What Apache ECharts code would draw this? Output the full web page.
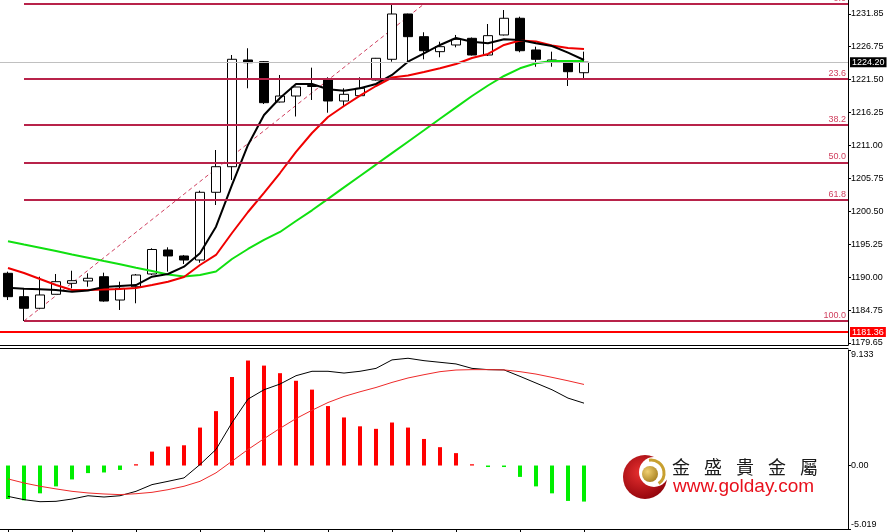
<!DOCTYPE html>
<html><head><meta charset="utf-8">
<script src="https://cdn.jsdelivr.net/npm/echarts@6/dist/echarts.min.js"></script>
<style>html,body{margin:0;padding:0;background:#fff;}#c{width:887px;height:532px;}</style>
</head><body><div id="c"></div>
<script>
// ---- Candles (open, close, low, high) ----
const opens  = [1190.69,1186.98,1185.14,1187.36,1189.10,1189.47,1190.15,1186.45,1188.56,1190.58,1194.39,1193.44,1192.80,1203.55,1207.61,1224.55,1224.28,1217.88,1218.83,1220.34,1221.37,1218.04,1218.88,1221.37,1224.66,1231.85,1228.25,1225.87,1226.93,1227.99,1225.34,1228.52,1231.17,1226.14,1224.23,1224.28,1222.53];
const closes = [1186.98,1185.14,1187.25,1189.36,1189.52,1189.90,1186.29,1188.31,1190.42,1194.47,1193.44,1192.80,1203.55,1207.61,1224.66,1224.12,1217.77,1218.83,1220.26,1220.50,1218.04,1219.10,1220.06,1224.82,1231.85,1228.25,1226.02,1226.66,1227.83,1225.34,1228.41,1231.17,1226.02,1224.66,1224.55,1222.69,1224.20];
const lows   = [1186.45,1183.12,1184.98,1187.33,1188.31,1188.56,1186.18,1184.87,1185.93,1190.42,1190.95,1192.17,1192.37,1201.53,1205.50,1220.06,1217.56,1217.80,1215.58,1218.20,1216.18,1217.14,1218.83,1221.29,1224.28,1224.28,1224.66,1224.98,1226.56,1225.26,1225.18,1228.44,1225.77,1223.48,1223.48,1220.42,1221.64];
const highs  = [1190.95,1188.20,1190.15,1190.58,1191.10,1190.69,1190.79,1189.36,1190.58,1194.66,1194.82,1193.60,1203.80,1210.26,1225.34,1226.41,1224.39,1222.17,1220.31,1223.33,1221.80,1220.06,1221.80,1224.87,1233.44,1231.90,1228.95,1227.45,1228.52,1228.12,1230.26,1232.48,1231.42,1226.66,1225.87,1224.31,1225.87];

// ---- Moving averages ----
const maFast = [1188.41,1188.25,1188.15,1188.04,1187.77,1187.96,1188.52,1188.68,1188.83,1190.15,1190.58,1191.74,1193.87,1198.09,1204.71,1211.06,1215.82,1218.52,1220.74,1220.74,1219.90,1219.68,1220.06,1220.74,1222.17,1224.28,1225.61,1226.93,1228.04,1227.45,1227.20,1227.83,1227.72,1227.20,1226.77,1225.71,1224.55];
const maMid  = [1191.53,1190.74,1189.79,1188.83,1188.04,1188.04,1188.12,1188.20,1188.36,1188.83,1189.36,1190.10,1192.01,1193.60,1197.09,1200.42,1203.44,1206.61,1209.95,1212.96,1215.50,1217.25,1218.88,1220.42,1221.77,1222.09,1222.64,1223.23,1223.91,1224.87,1225.50,1226.93,1227.64,1227.48,1226.85,1226.45,1226.29];
const maSlow = [1195.77,1195.25,1194.75,1194.23,1193.69,1193.17,1192.64,1192.12,1191.58,1191.06,1190.50,1190.18,1190.42,1190.98,1192.96,1194.55,1195.98,1197.25,1198.99,1200.69,1202.50,1204.33,1206.14,1207.95,1209.77,1211.58,1213.39,1215.22,1217.02,1218.83,1220.50,1222.01,1223.23,1224.02,1224.39,1224.39,1224.39];

// ---- MACD ----
const macdHist   = [-2.65,-2.75,-2.2,-1.65,-1.1,-0.6,-0.55,-0.35,0.1,1.1,1.5,1.6,3.0,4.3,7.0,8.3,7.9,7.3,6.7,6.0,4.7,3.8,3.1,2.9,3.4,3.0,2.1,1.45,0.98,0.1,-0.12,-0.12,-0.9,-1.65,-2.2,-2.8,-2.85];
const macdLine   = [-2.44,-2.7,-2.86,-2.83,-2.65,-2.39,-2.49,-2.39,-2.04,-1.51,-1.25,-0.98,0.08,1.27,3.39,5.25,5.99,6.44,7.1,7.45,7.45,7.31,7.45,7.68,8.35,8.48,8.29,8.16,8.03,7.68,7.58,7.56,7.05,6.52,5.99,5.33,4.93];
const macdSignal = [-1.06,-1.38,-1.64,-1.85,-2.04,-2.17,-2.25,-2.3,-2.23,-2.12,-1.91,-1.64,-1.25,-0.58,0.34,1.27,2.12,2.94,3.71,4.37,4.98,5.46,5.83,6.17,6.57,6.92,7.18,7.42,7.55,7.58,7.58,7.56,7.42,7.23,6.97,6.7,6.41];

// ---- Levels / ticks ----
const fibPercents = [0, 23.6, 38.2, 50, 61.8, 100];
const fibAnchorEndIdx = 26;
const lastPrice = 1224.20;
const supportPrice = 1181.36;
const priceTicks = [1179.65,1184.75,1190.00,1195.25,1200.50,1205.75,1211.00,1216.25,1221.50,1226.75,1231.85];
const macdTicks = [-5.019, 0, 9.133];

const SLOTS = 53;
const TICK_EVERY = 4;
const categories = Array.from({length: SLOTS}, (_, i) => 'B' + i);
const candleData = opens.map((o, i) => [o, closes[i], lows[i], highs[i]]);
const fibLow = Math.min(...lows), fibHigh = Math.max(...highs);
const fibStartIdx = lows.indexOf(fibLow);
const xMax = SLOTS - 0.5;
const fibColor = '#b8234a';
const fibText = '#d0405f';
const axisFont = 'Liberation Sans';

const chart = echarts.init(document.getElementById('c'), null, {renderer: 'canvas'});
chart.setOption({
  animation: false,
  backgroundColor: '#ffffff',
  grid: [
    {left: -2, top: 0, width: 850, height: 345},
    {left: -2, top: 350, width: 850, height: 179}
  ],
  xAxis: [
    {type: 'category', gridIndex: 0, data: categories, boundaryGap: true,
     axisLine: {show: true, onZero: false, lineStyle: {color: '#000', width: 1}}, axisTick: {show: false}, axisLabel: {show: false}, splitLine: {show: false}},
    {type: 'value', gridIndex: 0, min: -0.5, max: xMax, show: false, axisLine: {onZero: false}},
    {type: 'category', gridIndex: 1, data: categories, boundaryGap: true, position: 'bottom',
     axisLine: {show: true, onZero: false, lineStyle: {color: '#000', width: 1}},
     axisTick: {show: true, alignWithLabel: true, length: 3, lineStyle: {color: '#000'},
       interval: (idx) => idx % TICK_EVERY === 0 && idx < opens.length},
     axisLabel: {show: false}, splitLine: {show: false}},
    {type: 'category', gridIndex: 1, data: categories, position: 'top', offset: 2,
     axisLine: {show: true, onZero: false, lineStyle: {color: '#000', width: 1}}, axisTick: {show: false}, axisLabel: {show: false}}
  ],
  yAxis: [
    {type: 'value', gridIndex: 0, position: 'right', min: 1179.31, max: 1234.07, scale: true,
     axisLine: {show: true, onZero: false, lineStyle: {color: '#000', width: 1}},
     axisTick: {show: true, length: 3, lineStyle: {color: '#000'}, customValues: priceTicks},
     axisLabel: {show: true, customValues: priceTicks, formatter: v => v.toFixed(2), color: '#000', fontSize: 9, fontFamily: axisFont, margin: 3},
     splitLine: {show: false}},
    {type: 'value', gridIndex: 1, position: 'right', min: -5.019, max: 9.133,
     axisLine: {show: true, onZero: false, lineStyle: {color: '#000', width: 1}},
     axisTick: {show: true, length: 3, lineStyle: {color: '#000'}, customValues: macdTicks},
     axisLabel: {show: true, customValues: macdTicks, formatter: v => v === 0 ? '0.00' : String(v), color: '#000', fontSize: 9, fontFamily: axisFont, margin: 3,
       verticalAlignMaxLabel: 'top', verticalAlignMinLabel: 'bottom'},
     splitLine: {show: false}}
  ],
  series: [
    {type: 'line', xAxisIndex: 1, yAxisIndex: 0, data: [], silent: true, z: 1,
     markLine: {symbol: 'none', silent: true, animation: false,
       data: fibPercents.map(p => {
         const lvl = fibHigh - (fibHigh - fibLow) * p / 100;
         return [
           {coord: [fibStartIdx, lvl], lineStyle: {color: fibColor, width: 2, type: 'solid'},
            label: {show: true, position: 'insideEndTop', formatter: p.toFixed(1), color: fibText, fontSize: 9, fontFamily: axisFont, distance: [2, 1]}},
           {coord: [xMax, lvl]}
         ];
       })}},
    {type: 'line', xAxisIndex: 1, yAxisIndex: 0, data: [[fibStartIdx, fibLow], [fibAnchorEndIdx, fibHigh]],
     showSymbol: false, silent: true, z: 1,
     lineStyle: {color: '#d04060', width: 1, type: [4, 3]}},
    {type: 'candlestick', xAxisIndex: 0, yAxisIndex: 0, data: candleData, barWidth: 10, z: 2,
     itemStyle: {color: '#ffffff', color0: '#000000', borderColor: '#000000', borderColor0: '#000000', borderWidth: 1},
     markLine: {symbol: 'none', silent: true, animation: false,
       data: [
         {yAxis: lastPrice, lineStyle: {color: '#c0c0c0', width: 1, type: 'solid'},
          label: {show: true, position: 'end', formatter: lastPrice.toFixed(2), color: '#fff', backgroundColor: '#000', padding: [1, 2, 0, 2], fontSize: 9, fontFamily: axisFont, distance: 2}},
         {yAxis: supportPrice, lineStyle: {color: '#ff0000', width: 2, type: 'solid'},
          label: {show: true, position: 'end', formatter: supportPrice.toFixed(2), color: '#fff', backgroundColor: '#ff0000', padding: [1, 2, 0, 2], fontSize: 9, fontFamily: axisFont, distance: 2}}
       ]}},
    {type: 'line', xAxisIndex: 0, yAxisIndex: 0, data: maSlow, showSymbol: false, silent: true, z: 3, lineStyle: {color: '#10e010', width: 2}},
    {type: 'line', xAxisIndex: 0, yAxisIndex: 0, data: maMid, showSymbol: false, silent: true, z: 3, lineStyle: {color: '#f00000', width: 2}},
    {type: 'line', xAxisIndex: 0, yAxisIndex: 0, data: maFast, showSymbol: false, silent: true, z: 4, lineStyle: {color: '#000000', width: 2}},
    {type: 'bar', xAxisIndex: 2, yAxisIndex: 1, barWidth: 4, silent: true,
     data: macdHist.map(v => ({value: v, itemStyle: {color: v >= 0 ? '#ff0000' : '#00ee00'}}))},
    {type: 'line', xAxisIndex: 2, yAxisIndex: 1, data: macdLine, showSymbol: false, silent: true, lineStyle: {color: '#000', width: 1}},
    {type: 'line', xAxisIndex: 2, yAxisIndex: 1, data: macdSignal, showSymbol: false, silent: true, lineStyle: {color: '#ee2a2a', width: 1}}
  ],
  graphic: [
    {type: 'circle', shape: {cx: 645, cy: 477, r: 22}, style: {fill: new echarts.graphic.RadialGradient(0.4, 0.4, 0.7, [{offset: 0, color: '#e83030'}, {offset: 1, color: '#8a0008'}])}, z: 10},
    {type: 'circle', shape: {cx: 654, cy: 472, r: 15}, style: {fill: '#ffffff'}, z: 11},
    {type: 'arc', shape: {cx: 651, cy: 473, r: 13, startAngle: -Math.PI * 0.55, endAngle: Math.PI * 0.3}, style: {stroke: '#c8a030', lineWidth: 3, fill: null}, z: 12},
    {type: 'circle', shape: {cx: 650, cy: 474, r: 8}, style: {fill: new echarts.graphic.RadialGradient(0.35, 0.35, 0.8, [{offset: 0, color: '#f0d070'}, {offset: 1, color: '#a07818'}])}, z: 12},
    ...['金','盛','貴','金','屬'].map((ch, k) => ({type: 'text', x: 681 + k * 32, y: 467, z: 12,
      style: {text: ch, fill: '#1a1a1a', font: '18px "Noto Sans CJK TC"', textAlign: 'center', textVerticalAlign: 'middle'}})),
    {type: 'text', x: 673, y: 487, z: 12, style: {text: 'www.golday.com', fill: '#e8101c', font: '19px "Liberation Sans"', textAlign: 'left', textVerticalAlign: 'middle'}}
  ]
});
</script></body></html>
